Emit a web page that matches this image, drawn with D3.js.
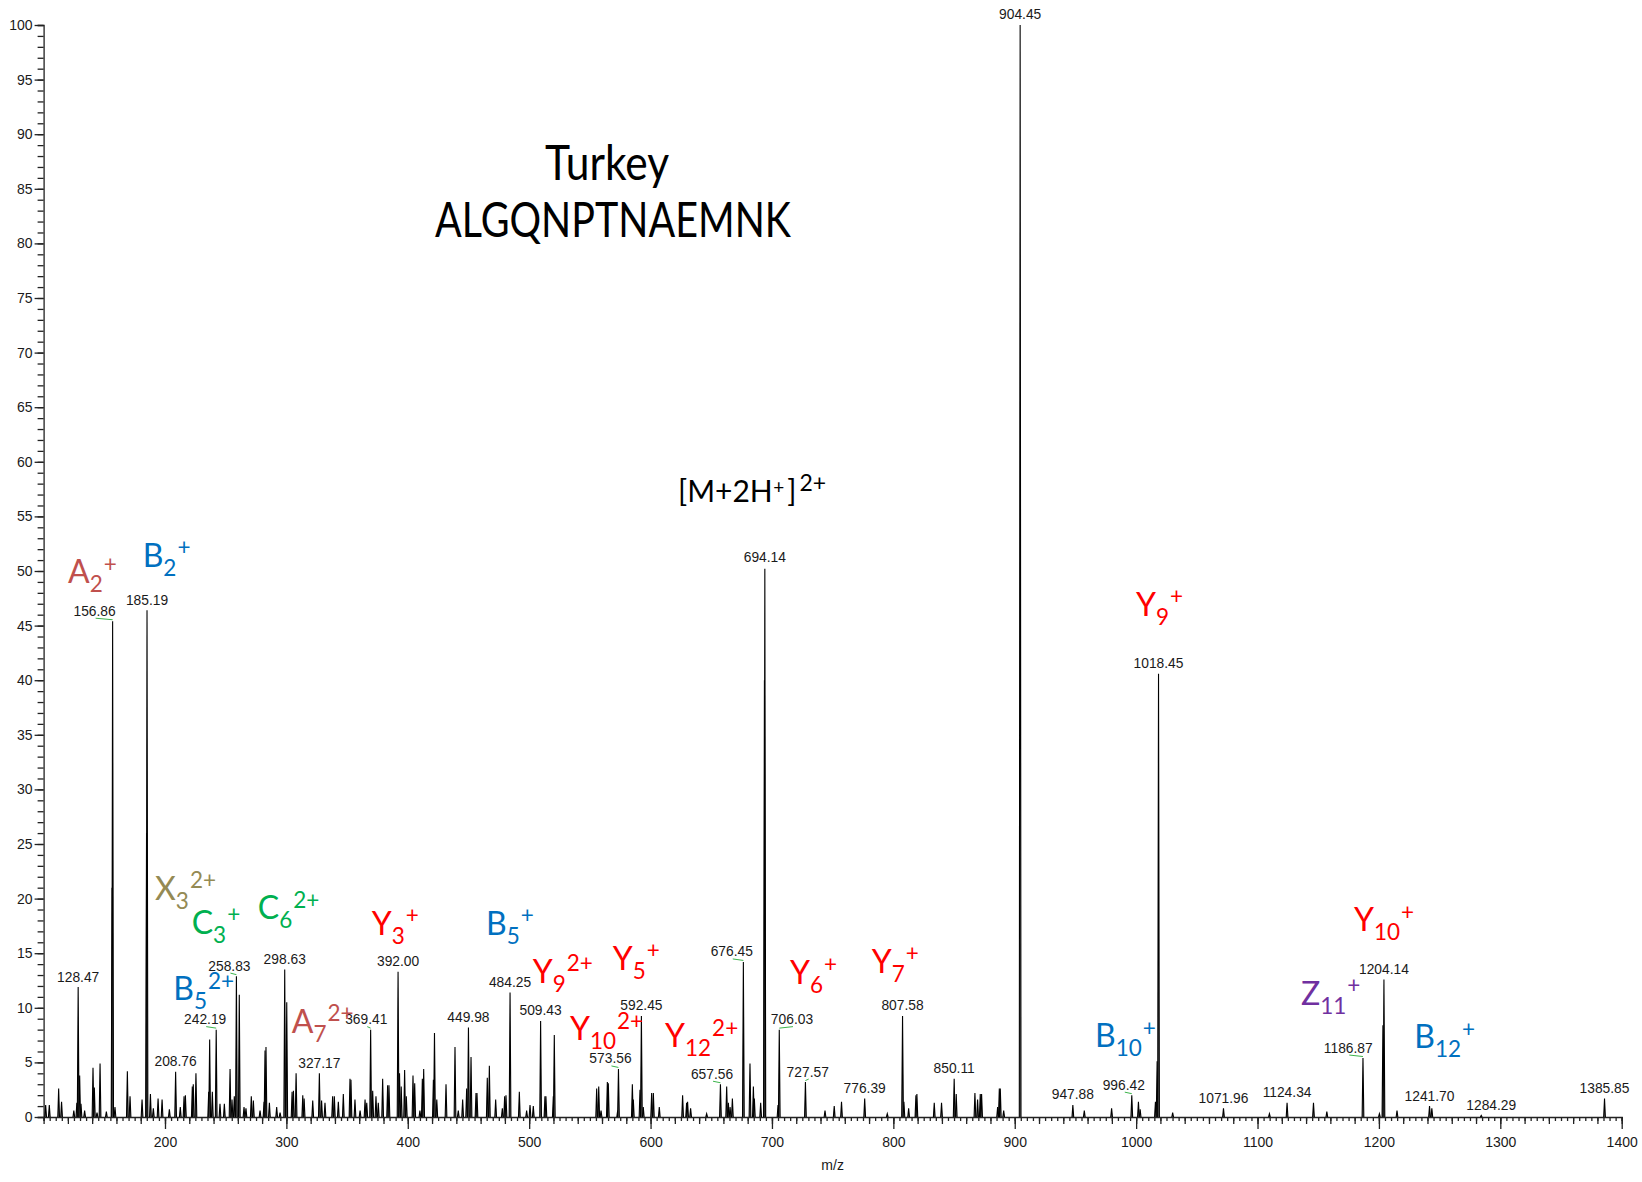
<!DOCTYPE html>
<html>
<head>
<meta charset="utf-8">
<script src="https://cdn.jsdelivr.net/npm/d3@7"></script>
<style>
  body { margin: 0; background: #fff; }
  svg { display: block; }
  .num { font-family: "Liberation Sans", Arial, sans-serif; font-size: 13.8px; fill: #1a1a1a; }
  .tick text { font-family: "Liberation Sans", Arial, sans-serif; font-size: 14px; fill: #1a1a1a; }
  .tick line, .domain { stroke: #222; stroke-width: 1.3; }
  .ion { font-family: Lato, "Open Sans", sans-serif; }
</style>
</head>
<body>
<div id="chart"></div>
<script>
var W = 1642
var H = 1182

// m/z, relative abundance
var peaks = [
  [101.7, 1.1], [104.7, 1.1], [112.4, 2.6], [114.8, 1.4], [124.9, 0.6], [127.4, 1.3], [128.47, 11.9], [129.7, 3.8],
  [130.8, 1.2], [133.8, 0.6], [140.7, 4.5], [141.8, 2.7], [144, 0.4], [146.5, 4.9], [151.7, 0.5], [156.4, 21],
  [156.86, 45.4], [158.8, 0.9], [169, 4.2], [171.2, 1.9], [181.1, 1.6], [184.8, 26], [185.19, 46.4], [188, 2.1],
  [190.4, 0.8], [194.3, 1.7], [197.6, 1.6], [203.6, 0.7], [208.76, 4.15], [212.6, 0.9], [215.7, 1.9], [216.8, 2.0],
  [222.5, 2.8], [223.3, 3.0], [225.5, 4.0], [236, 2.3], [236.8, 7.1], [239, 2.3], [242.19, 8.0], [245.3, 1.2],
  [248.9, 1.2], [253.6, 4.4], [255.2, 1.6], [257.1, 1.9], [258.83, 12.9], [261.2, 11.2], [265.1, 0.9], [266.7, 0.8],
  [271.1, 1.9], [272.8, 1.5], [278.3, 0.6], [281.6, 1.4], [282.4, 6.1], [283.2, 6.4], [286, 1.3], [292, 0.9],
  [294.8, 0.4], [298.63, 13.5], [300.3, 10.5], [304.7, 2.3], [305.8, 2.4], [308, 4.0], [313.5, 2.0], [314.6, 1.7],
  [321.7, 1.5], [327.17, 4.0], [329, 1.5], [331.8, 1.3], [338.1, 1.9], [339.5, 1.9], [342.8, 1.4], [346.9, 2.1],
  [352.4, 3.5], [353.2, 3.4], [356.5, 1.6], [360.7, 0.6], [364.8, 1.6], [366.2, 1.3], [369.41, 8.0], [371.1, 2.4],
  [373.8, 1.9], [375.7, 1.3], [379.3, 3.5], [383.4, 2.9], [384.5, 2.9], [392.0, 13.3], [393.2, 4.0], [394.6, 2.8],
  [397.4, 4.3], [398.8, 1.9], [404.3, 3.8], [405.7, 3.1], [410, 0.6], [412, 3.5], [413.1, 4.4], [421.1, 3.4],
  [422, 7.7], [423.9, 1.6], [431.5, 3.0], [438.9, 6.4], [441.6, 0.6], [445.2, 1.6], [448.5, 2.6], [449.98, 8.2],
  [452.1, 5.5], [456.2, 2.2], [457, 2.2], [465.5, 3.6], [467.2, 4.7], [472.4, 1.6], [477.9, 0.8], [479.8, 1.9],
  [480.9, 2.0], [484.25, 11.4], [491.9, 2.3], [497.9, 0.6], [500.7, 1.1], [503.4, 1.0], [509.43, 8.8], [513, 1.9],
  [513.8, 1.9], [519.9, 1.9], [520.7, 7.5], [555.6, 2.6], [557.3, 2.8], [559.2, 0.6], [564.4, 3.2], [565.2, 3.1],
  [572.9, 0.6], [573.56, 4.4], [585, 3.0], [585.8, 1.6], [591.3, 2.5], [592.45, 9.25], [594, 0.9], [600.9, 2.2],
  [602.3, 2.2], [607.2, 0.9], [626.4, 2.0], [629.7, 1.3], [630.5, 1.4], [633, 0.8], [646.2, 0.3], [657.56, 3.0],
  [662.7, 2.8], [664.1, 1.3], [665.5, 0.9], [667.4, 1.7], [676.45, 14.2], [681.9, 4.9], [684.7, 2.8], [685.5, 1.7],
  [690.7, 1.3], [693.8, 40], [694.14, 50.2], [705, 1.1], [706.03, 8.0], [727.57, 3.2], [743.7, 0.6], [751.3, 1.0],
  [757.3, 1.4], [776.39, 1.7], [795, 0.3], [807.58, 9.25], [808.7, 1.4], [812.6, 0.8], [818.6, 2.0], [819.4, 2.1],
  [833.7, 1.3], [839.7, 1.3], [850.11, 3.5], [851.8, 2.1], [867.2, 2.2], [869.4, 1.6], [871.6, 2.1], [872.7, 2.1],
  [885.9, 0.9], [887.3, 2.6], [888.1, 2.6], [890.9, 0.6], [904.45, 100], [947.88, 1.1], [957.3, 0.6], [979.8, 0.8],
  [996.42, 2.0], [1001.9, 1.4], [1003.3, 0.7], [1015.9, 1.4], [1017.3, 5.1], [1018.45, 40.6], [1030.1, 0.4],
  [1071.96, 0.8], [1109.8, 0.3], [1124.34, 1.3], [1146.1, 1.3], [1157.1, 0.5], [1186.87, 5.4], [1200.4, 0.3],
  [1203.3, 8.4], [1204.14, 12.6], [1214.9, 0.6], [1241.7, 1.0], [1243.6, 0.8], [1284.29, 0.15], [1385.85, 1.7]
]

// peaks that carry an m/z label
var labelled = [128.47, 156.86, 185.19, 208.76, 242.19, 258.83, 298.63, 327.17, 369.41, 392.00, 449.98, 484.25,
  509.43, 573.56, 592.45, 657.56, 676.45, 694.14, 706.03, 727.57, 776.39, 807.58, 850.11, 904.45, 947.88, 996.42,
  1018.45, 1071.96, 1124.34, 1186.87, 1204.14, 1241.70, 1284.29, 1385.85]

// fragment ion annotations: type, subscript, superscript, anchor m/z, anchor abundance
var ions = [
  ['A', '2', '+', 120.1, 48.9], ['B', '2', '+', 181.6, 50.4], ['X', '3', '2+', 191.8, 19.9],
  ['C', '3', '+', 222.0, 16.8], ['C', '6', '2+', 276.4, 18.1], ['Y', '3', '+', 370.3, 16.7],
  ['B', '5', '2+', 206.8, 10.7], ['A', '7', '2+', 304.4, 7.7], ['B', '5', '+', 464.4, 16.7],
  ['Y', '9', '2+', 502.9, 12.3], ['Y', '5', '+', 568.8, 13.5], ['Y', '10', '2+', 533.6, 7.05],
  ['Y', '12', '2+', 611.9, 6.4], ['Y', '6', '+', 714.9, 12.2], ['Y', '7', '+', 782.2, 13.2],
  ['B', '10', '+', 966.1, 6.4], ['Y', '9', '+', 999.9, 45.9], ['Y', '10', '+', 1179.5, 17.0],
  ['Z', '11', '+', 1135.8, 10.3], ['B', '12', '+', 1229.1, 6.3]
]

var ionColors = { A: '#C0504D', B: '#0070C0', C: '#00B050', X: '#948A54', Y: '#FF0000', Z: '#7030A0' }

var xTickLabels = [200, 300, 400, 500, 600, 700, 800, 900, 1000, 1100, 1200, 1300, 1400]
var yTickLabels = [0, 5, 10, 15, 20, 25, 30, 35, 40, 45, 50, 55, 60, 65, 70, 75, 80, 85, 90, 95, 100]

// label nudges in px (labels set beside their peak get a green leader)
var nudge = { 156.86: -18, 242.19: -11, 258.83: -7, 369.41: -4.4, 573.56: -8, 657.56: -8.4, 676.45: -11.6,
  706.03: 12.7, 727.57: 2.3, 996.42: -8, 1186.87: -14.7, 1284.29: 10 }
var noLeader = [1284.29]

var x = d3.scaleLinear().domain([100, 1400]).range([43.6, 1621.7])
var y = d3.scaleLinear().domain([0, 100]).range([1117, 25])

var svg = d3.select('#chart')
  .append('svg')
  .attr('width', W)
  .attr('height', H)

svg.append('rect').attr('width', W).attr('height', H).attr('fill', '#fff')

// x axis: minor / medium / major ticks
svg.append('g')
  .attr('transform', `translate(0,${y(0)})`)
  .call(d3.axisBottom(x).tickValues(d3.range(100, 1401, 5)).tickSize(4).tickFormat(''))
svg.append('g')
  .attr('transform', `translate(0,${y(0)})`)
  .call(d3.axisBottom(x).tickValues(d3.range(100, 1401, 20)).tickSize(7).tickFormat(''))
  .select('.domain').remove()
svg.append('g')
  .attr('transform', `translate(0,${y(0)})`)
  .call(d3.axisBottom(x).tickValues(xTickLabels).tickSize(12).tickPadding(8).tickFormat(d3.format('d')))
  .select('.domain').remove()

// y axis
svg.append('g')
  .attr('transform', `translate(${x(100)},0)`)
  .call(d3.axisLeft(y).tickValues(d3.range(0, 101, 1)).tickSize(6).tickFormat(''))
svg.append('g')
  .attr('transform', `translate(${x(100)},0)`)
  .call(d3.axisLeft(y).tickValues(yTickLabels).tickSize(9).tickPadding(2).tickFormat(d3.format('d')))
  .select('.domain').remove()

svg.append('text')
  .attr('x', (x(100) + x(1400)) / 2)
  .attr('y', y(0) + 53)
  .attr('text-anchor', 'middle')
  .style('font-family', '"Liberation Sans", Arial, sans-serif')
  .style('font-size', '14px')
  .style('fill', '#1a1a1a')
  .text('m/z')

// spectrum peaks as thin profile spikes
var hw = 0.7
svg.append('g')
  .selectAll('path')
  .data(peaks)
  .enter()
  .append('path')
  .attr('d', d => `M${x(d[0] - hw)},${y(0)}L${x(d[0])},${y(d[1])}L${x(d[0] + hw)},${y(0)}`)
  .attr('fill', '#666')
  .attr('stroke', '#000')
  .attr('stroke-width', 1.1)
  .attr('stroke-linejoin', 'miter')

function peakHeight(m) {
  var best = peaks[0]
  peaks.forEach(function(p) {
    if (Math.abs(p[0] - m) < Math.abs(best[0] - m)) best = p
  })
  return best[1]
}

// m/z labels and green leaders
var labs = svg.append('g')
labelled.forEach(function(m) {
  var px = x(m)
  var py = y(peakHeight(m))
  var dx = nudge[m] || 0
  var gap = m === 904.45 || m === 694.14 ? 6.5 : 5.5
  labs.append('text')
    .attr('class', 'num')
    .attr('x', px + dx)
    .attr('y', py - gap)
    .attr('text-anchor', 'middle')
    .text(m.toFixed(2))
  if (dx && !noLeader.includes(m)) {
    labs.append('line')
      .attr('x1', px + dx + 1)
      .attr('y1', py - gap + 2.5)
      .attr('x2', px)
      .attr('y2', py - 1.5)
      .attr('stroke', '#3cb44b')
      .attr('stroke-width', 1)
  }
})

// fragment ion annotations
var ionG = svg.append('g')
ions.forEach(function(d) {
  var t = ionG.append('text')
    .attr('class', 'ion')
    .attr('x', x(d[3]))
    .attr('y', y(d[4]))
    .style('fill', ionColors[d[0]])
    .style('font-size', '32px')
  t.append('tspan').text(d[0])
  t.append('tspan').attr('dy', 9).style('font-size', '22.5px').text(d[1])
  t.append('tspan').attr('dy', -20.5).attr('dx', 1).style('font-size', '22.5px').text(d[2])
})

// title
svg.append('text')
  .attr('class', 'ion')
  .attr('x', x(513.1))
  .attr('y', y(85.8))
  .attr('textLength', 124)
  .attr('lengthAdjust', 'spacingAndGlyphs')
  .style('font-size', '48px')
  .style('fill', '#000')
  .text('Turkey')

svg.append('text')
  .attr('class', 'ion')
  .attr('x', x(422.4))
  .attr('y', y(80.6))
  .attr('textLength', 356)
  .attr('lengthAdjust', 'spacingAndGlyphs')
  .style('font-size', '48px')
  .style('fill', '#000')
  .text('ALGQNPTNAEMNK')

// precursor label
var prec = svg.append('text')
  .attr('class', 'ion')
  .attr('x', x(622.6))
  .attr('y', y(56.3))
  .style('font-size', '30px')
  .style('fill', '#000')
prec.append('tspan').text('[M+2H')
prec.append('tspan').attr('dy', -8).attr('dx', 0.5).style('font-size', '19px').text('+')
prec.append('tspan').attr('dy', 8).attr('dx', 3).style('font-size', '30px').text(']')
prec.append('tspan').attr('dy', -11.7).attr('dx', 3).style('font-size', '23px').text('2+')
</script>
</body>
</html>
